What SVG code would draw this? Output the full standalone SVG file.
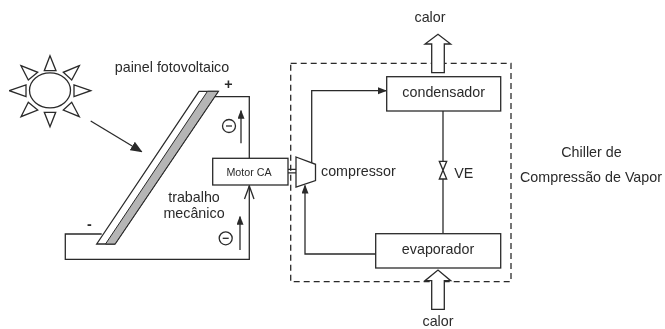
<svg xmlns="http://www.w3.org/2000/svg" width="665" height="329" viewBox="0 0 665 329">
<defs>
<style>
text{font-family:"Liberation Sans",Arial,sans-serif;font-size:14.3px;fill:#2a2a2a}
.l{fill:none;stroke:#2a2a2a;stroke-width:1.3}
.b{fill:#fff;stroke:#2a2a2a;stroke-width:1.3}
.m{text-anchor:middle}
</style>
<marker id="ah" markerWidth="9" markerHeight="8" refX="8" refY="3.5" orient="auto" markerUnits="userSpaceOnUse"><path d="M0 0L9 3.500L0 7z" fill="#2a2a2a"/></marker>
<marker id="big" markerWidth="12" markerHeight="10" refX="11" refY="5" orient="auto" markerUnits="userSpaceOnUse"><path d="M0 0L12 5L0 10z" fill="#2a2a2a"/></marker>
<filter id="soft" x="0" y="0" width="1" height="1"><feGaussianBlur stdDeviation="0.45"/></filter>
</defs>
<rect width="665" height="329" fill="#fff"/>
<g filter="url(#soft)">
<g id="sun">
<ellipse class="b" cx="50" cy="90.300" rx="20.500" ry="17.500"/>
<path class="b" d="M50 55.700L44.300 70.700H56Z"/>
<path class="b" d="M50 126.700L44.300 112.300H55.700Z"/>
<path class="b" d="M9.300 90.700L26 85V96.700Z"/>
<path class="b" d="M90.700 90.700L74 85V96.700Z"/>
<path class="b" d="M21 65.700L37.700 72.300L28.300 80Z"/>
<path class="b" d="M79.300 65.700L63.300 72.300L71.700 80Z"/>
<path class="b" d="M21 116.700L28.300 102.300L37.700 110Z"/>
<path class="b" d="M79.300 116.700L71.700 102.300L63.300 110Z"/>
</g>
<g id="panel">
<path class="b" d="M199 91.300H218.300L115 244H96.700Z"/>
<path d="M207.500 91.300H218.300L115 244H105.500Z" fill="#b5b5b5" stroke="#2a2a2a" stroke-width="1"/>
</g>
<g id="connectors">
<path class="l" d="M215 96.700H249.300V158"/>
<path class="l" d="M101.700 234H65.300V259.300H249.300V186"/>
<path class="l" d="M244.500 199L249.300 186L254 199"/>
<path class="l" d="M241 143.300V110.700" marker-end="url(#ah)"/>
<path class="l" d="M240 250V216.700" marker-end="url(#ah)"/>
<path class="l" d="M90.700 121L141.700 151.700" marker-end="url(#big)"/>
<path class="l" d="M288 169.300H296M288 172.800H296"/>
<path class="l" d="M311.700 163V90.700H386" marker-end="url(#ah)"/>
<path class="l" d="M376 254H305V185.500" marker-end="url(#ah)"/>
<path class="l" d="M443 111V161.300M443 179V233.700"/>
<path class="b" d="M439.300 161.300H446.700L439.300 179H446.700Z"/>
<path d="M290.700 63.300H511V281.700H290.700Z" fill="none" stroke="#2a2a2a" stroke-width="1.300" stroke-dasharray="6 4"/>
<path class="b" d="M431.700 72.700V44H425L438 34.300L450.700 44H444.300V72.700Z"/>
<path class="b" d="M431.700 309.300V280.700H425L438 270L450.700 280.700H444.300V309.300Z"/>
</g>
<g id="motor"><rect class="b" x="212.700" y="158.300" width="75.300" height="26.700"/><text class="m" x="249" y="176" style="font-size:10.700px">Motor CA</text></g>
<g id="compressor"><path class="b" d="M296 157L315.500 164.300V180.500L296 187Z"/><text x="321" y="175.500">compressor</text></g>
<g id="condensador"><rect class="b" x="386.700" y="76.700" width="114" height="34.300"/><text class="m" x="443.700" y="97">condensador</text></g>
<g id="evaporador"><rect class="b" x="375.700" y="233.700" width="125" height="34.300"/><text class="m" x="438" y="253.700">evaporador</text></g>
<g id="labels">
<text class="m" x="172" y="72">painel fotovoltaico</text>
<text class="m" x="228.500" y="89" style="font-weight:bold">+</text>
<text class="m" x="89.500" y="229" style="font-weight:bold">-</text>
<text class="m" x="194" y="202">trabalho</text>
<text class="m" x="194" y="218">mecânico</text>
<text class="m" x="430" y="21.700">calor</text>
<text class="m" x="438" y="325.500">calor</text>
<text x="454.300" y="178">VE</text>
<text class="m" x="591.500" y="157">Chiller de</text>
<text class="m" x="591" y="181.700">Compressão de Vapor</text>
<circle class="l" cx="229" cy="126" r="6.500"/><path class="l" d="M226 126H232"/>
<circle class="l" cx="225.700" cy="238.300" r="6.500"/><path class="l" d="M222.700 238.300H228.700"/>
</g>
</g>
</svg>
